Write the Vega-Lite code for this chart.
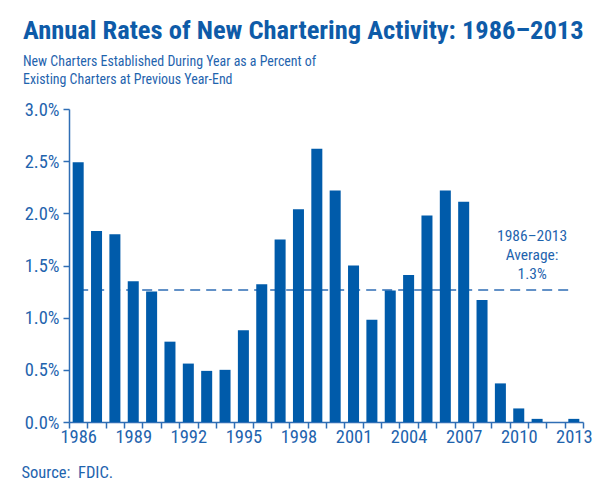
{
  "$schema": "https://vega.github.io/schema/vega-lite/v6.json",
  "width": 514,
  "height": 313,
  "autosize": {"type": "none"},
  "padding": {"left": 69, "top": 109, "right": 15, "bottom": 63},
  "background": "white",
  "config": {
    "view": {"stroke": null},
    "font": "Roboto Condensed, Roboto"
  },
  "title": {
    "text": "Annual Rates of New Chartering Activity: 1986–2013",
    "subtitle": ["New Charters Established During Year as a Percent of", "Existing Charters at Previous Year-End"],
    "anchor": "start",
    "frame": "group",
    "dx": -46,
    "offset": 13,
    "font": "Roboto Condensed, Roboto",
    "fontSize": 26.5,
    "fontWeight": "bold",
    "color": "#0E5BA8",
    "subtitleFont": "Roboto Condensed, Roboto",
    "subtitleFontSize": 13.9,
    "subtitleColor": "#1F64AE",
    "subtitlePadding": 10,
    "subtitleLineHeight": 18.5
  },
  "data": {
    "values": [
      {"year": 1986, "rate": 2.49},
      {"year": 1987, "rate": 1.83},
      {"year": 1988, "rate": 1.80},
      {"year": 1989, "rate": 1.35},
      {"year": 1990, "rate": 1.25},
      {"year": 1991, "rate": 0.77},
      {"year": 1992, "rate": 0.56},
      {"year": 1993, "rate": 0.49},
      {"year": 1994, "rate": 0.50},
      {"year": 1995, "rate": 0.88},
      {"year": 1996, "rate": 1.32},
      {"year": 1997, "rate": 1.75},
      {"year": 1998, "rate": 2.04},
      {"year": 1999, "rate": 2.62},
      {"year": 2000, "rate": 2.22},
      {"year": 2001, "rate": 1.50},
      {"year": 2002, "rate": 0.98},
      {"year": 2003, "rate": 1.26},
      {"year": 2004, "rate": 1.41},
      {"year": 2005, "rate": 1.98},
      {"year": 2006, "rate": 2.22},
      {"year": 2007, "rate": 2.11},
      {"year": 2008, "rate": 1.17},
      {"year": 2009, "rate": 0.37},
      {"year": 2010, "rate": 0.13},
      {"year": 2011, "rate": 0.03},
      {"year": 2012, "rate": 0.0},
      {"year": 2013, "rate": 0.03}
    ]
  },
  "layer": [
    {
      "data": {"values": [{}]},
      "mark": {"type": "rule", "color": "#2F6EB5", "strokeWidth": 1.5, "strokeDash": [10, 6]},
      "encoding": {
        "x": {"datum": 1986, "type": "ordinal"},
        "x2": {"datum": 2013},
        "y": {"datum": 1.266, "type": "quantitative"}
      }
    },
    {
      "mark": {"type": "bar", "color": "#005BAA", "width": {"band": 0.6}},
      "encoding": {
        "x": {
          "field": "year",
          "type": "ordinal",
          "scale": {"paddingInner": 0, "paddingOuter": 0},
          "axis": {
            "title": "Source:\u00a0 FDIC.",
            "titleAnchor": "start",
            "titleAlign": "left",
            "titleX": -48,
            "titleY": 42,
            "titleFont": "Roboto Condensed, Roboto",
            "titleFontSize": 16.5,
            "titleFontWeight": "normal",
            "titleColor": "#1F64AE",
            "tickBand": "extent",
            "labelAngle": 0,
            "labelAlign": "center",
            "labelExpr": "(datum.value - 1986) % 3 == 0 ? datum.value : ''",
            "labelFont": "Roboto Condensed, Roboto",
            "labelFontSize": 18.5,
            "labelColor": "#1F64AE",
            "labelPadding": 8,
            "labelOverlap": false,
            "tickColor": "#2F6EB5",
            "tickSize": 6,
            "tickWidth": 1.5,
            "domainColor": "#2F6EB5",
            "domainWidth": 1.5
          }
        },
        "y": {
          "field": "rate",
          "type": "quantitative",
          "scale": {"domain": [0, 3], "nice": false},
          "axis": {
            "title": null,
            "values": [0, 0.5, 1, 1.5, 2, 2.5, 3],
            "labelExpr": "format(datum.value, '.1f') + '%'",
            "labelFont": "Roboto Condensed, Roboto",
            "labelFontSize": 18.5,
            "labelColor": "#1F64AE",
            "labelPadding": 4,
            "tickColor": "#2F6EB5",
            "tickSize": 6,
            "tickWidth": 1.5,
            "domainColor": "#2F6EB5",
            "domainWidth": 1.5,
            "grid": false
          }
        }
      }
    },
    {
      "data": {"values": [{}]},
      "mark": {"type": "text", "color": "#1F64AE", "font": "Roboto Condensed, Roboto", "fontSize": 15.5, "lineHeight": 19, "baseline": "middle", "align": "center", "dx": -5},
      "encoding": {
        "x": {"datum": 2011, "type": "ordinal"},
        "y": {"datum": 1.785, "type": "quantitative"},
        "text": {"value": ["1986–2013", "Average:", "1.3%"]}
      }
    }
  ]
}
